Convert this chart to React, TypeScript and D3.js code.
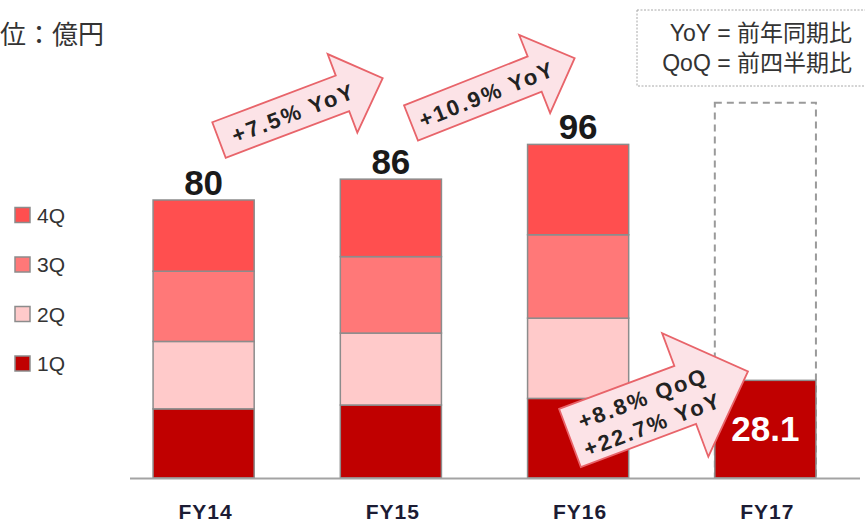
import * as d3 from "d3";

const categories = ["FY14", "FY15", "FY16", "FY17"];
const quarters = ["1Q", "2Q", "3Q", "4Q"];
const q1 = [19.9, 21.0, 22.9, 28.1];
const q2 = [19.4, 20.7, 23.1, 0];
const q3 = [20.2, 22.0, 24.0, 0];
const q4 = [20.5, 22.3, 26.0, 0];
const totalLabels = ["80", "86", "96", ""];
const fy17Outline = 108;
const fy17Label = "28.1";

const colors: Record<string, string> = {
  "1Q": "#c00000",
  "2Q": "#ffcaca",
  "3Q": "#ff7878",
  "4Q": "#ff4f4f",
};

const arrows = [
  { x: 219, y: 140, angle: -20.7, len: 175, shaft: 19, head: 42, headLen: 43, lines: ["+7.5% YoY"], tx: 78, ty: [1], tl: [128] },
  { x: 411, y: 123, angle: -21.6, len: 176, shaft: 19, head: 42, headLen: 43, lines: ["+10.9% YoY"], tx: 80, ty: [1], tl: [142] },
  { x: 570, y: 438, angle: -20.5, len: 190, shaft: 31, head: 66, headLen: 67, lines: ["+8.8% QoQ", "+22.7% YoY"], tx: 81, ty: [-12, 16], tl: [134, 143] },
];

const W = 865;
const H = 525;

function arrowPath(len: number, shaft: number, head: number, headLen: number) {
  const p = d3.path();
  const neck = len - headLen;
  p.moveTo(0, -shaft);
  p.lineTo(neck, -shaft);
  p.lineTo(neck, -head);
  p.lineTo(len, 0);
  p.lineTo(neck, head);
  p.lineTo(neck, shaft);
  p.lineTo(0, shaft);
  p.closePath();
  return p.toString();
}

export default function App() {
  const x = d3.scaleBand<string>().domain(categories).range([110, 859]).paddingInner(0.46).paddingOuter(0.23);
  const y = d3.scaleLinear().domain([0, fy17Outline]).range([478, 102.7]);

  const rows = categories.map((c, i) => ({ cat: c, "1Q": q1[i], "2Q": q2[i], "3Q": q3[i], "4Q": q4[i] }));
  const series = d3.stack<any>().keys(quarters)(rows);
  const bw = x.bandwidth();
  const sans = "'Liberation Sans', Arial, sans-serif";
  const cjk = "'Noto Sans CJK JP', 'Noto Sans', sans-serif";
  const mixed = "'Liberation Sans', 'Noto Sans CJK JP', sans-serif";

  return (
    <svg width={W} height={H} style={{ position: "absolute", left: 0, top: 0, background: "#fff" }}>
      {/* unit label (left part is outside the frame in the source) */}
      <text x={0} y={44} fontSize={26} fontFamily={cjk} fill="#333">位：億円</text>

      {/* abbreviation box */}
      <rect x={637} y={10} width={240} height={76} fill="none" stroke="#a8a8a8" strokeDasharray="2,1.5" />
      <text x={852} y={41} textAnchor="end" fontSize={23} fontFamily={mixed} fill="#333">YoY = 前年同期比</text>
      <text x={852} y={71} textAnchor="end" fontSize={23} fontFamily={mixed} fill="#333">QoQ = 前四半期比</text>

      {/* FY17 outline */}
      <rect
        x={x("FY17")!}
        y={y(fy17Outline)}
        width={bw}
        height={y(0) - y(fy17Outline)}
        fill="none"
        stroke="#9a9a9a"
        strokeWidth={2}
        strokeDasharray="7,5"
      />

      {series.map((s) => (
        <g key={s.key}>
          {s.map((d, i) =>
            d[1] - d[0] > 0 ? (
              <rect
                key={i}
                x={x(categories[i])!}
                y={y(d[1])}
                width={bw}
                height={y(d[0]) - y(d[1])}
                fill={colors[s.key]}
                stroke="#8c8c8c"
                strokeWidth={1.5}
              />
            ) : null
          )}
        </g>
      ))}

      {/* axis */}
      <line x1={130} x2={860} y1={478.5} y2={478.5} stroke="#a3a3a3" strokeWidth={2} />

      {categories.map((c) => (
        <text
          key={c}
          x={x(c)! + bw / 2 + 2}
          y={519}
          textAnchor="middle"
          fontSize={21}
          fontWeight="bold"
          fontFamily={sans}
          fill="#1c1c34"
          letterSpacing={1}
        >
          {c}
        </text>
      ))}

      {totalLabels.map((t, i) =>
        t ? (
          <text
            key={i}
            x={x(categories[i])! + bw / 2}
            y={y(q1[i] + q2[i] + q3[i] + q4[i]) - 5}
            textAnchor="middle"
            fontSize={35}
            fontWeight="bold"
            fontFamily={sans}
            fill="#1a1a1a"
          >
            {t}
          </text>
        ) : null
      )}

      {/* legend */}
      {[...quarters].reverse().map((q, i) => (
        <g key={q} transform={`translate(15,${215 + i * 49.5})`}>
          <rect x={0} y={-7.5} width={15} height={15} fill={colors[q]} stroke="#8c8c8c" strokeWidth={1.5} />
          <text x={22} y={7.5} fontSize={21} fontFamily={sans} fill="#333">{q}</text>
        </g>
      ))}

      {/* growth arrows */}
      {arrows.map((a, i) => (
        <g key={i} transform={`translate(${a.x},${a.y}) rotate(${a.angle})`}>
          <path d={arrowPath(a.len, a.shaft, a.head, a.headLen)} fill="#fce3e7" stroke="#e8646a" strokeWidth={1.8} />
          {a.lines.map((l, j) => (
            <text
              key={j}
              x={a.tx}
              y={a.ty[j]}
              dy="0.36em"
              textAnchor="middle"
              fontSize={22}
              fontWeight="bold"
              fontFamily={sans}
              fill="#222"
              textLength={a.tl[j]}
              lengthAdjust="spacing"
            >
              {l}
            </text>
          ))}
        </g>
      ))}

      <text
        x={x("FY17")! + bw / 2}
        y={y(q1[3]) + 61}
        textAnchor="middle"
        fontSize={35}
        fontWeight="bold"
        fontFamily={sans}
        fill="#fff"
      >
        {fy17Label}
      </text>
    </svg>
  );
}
